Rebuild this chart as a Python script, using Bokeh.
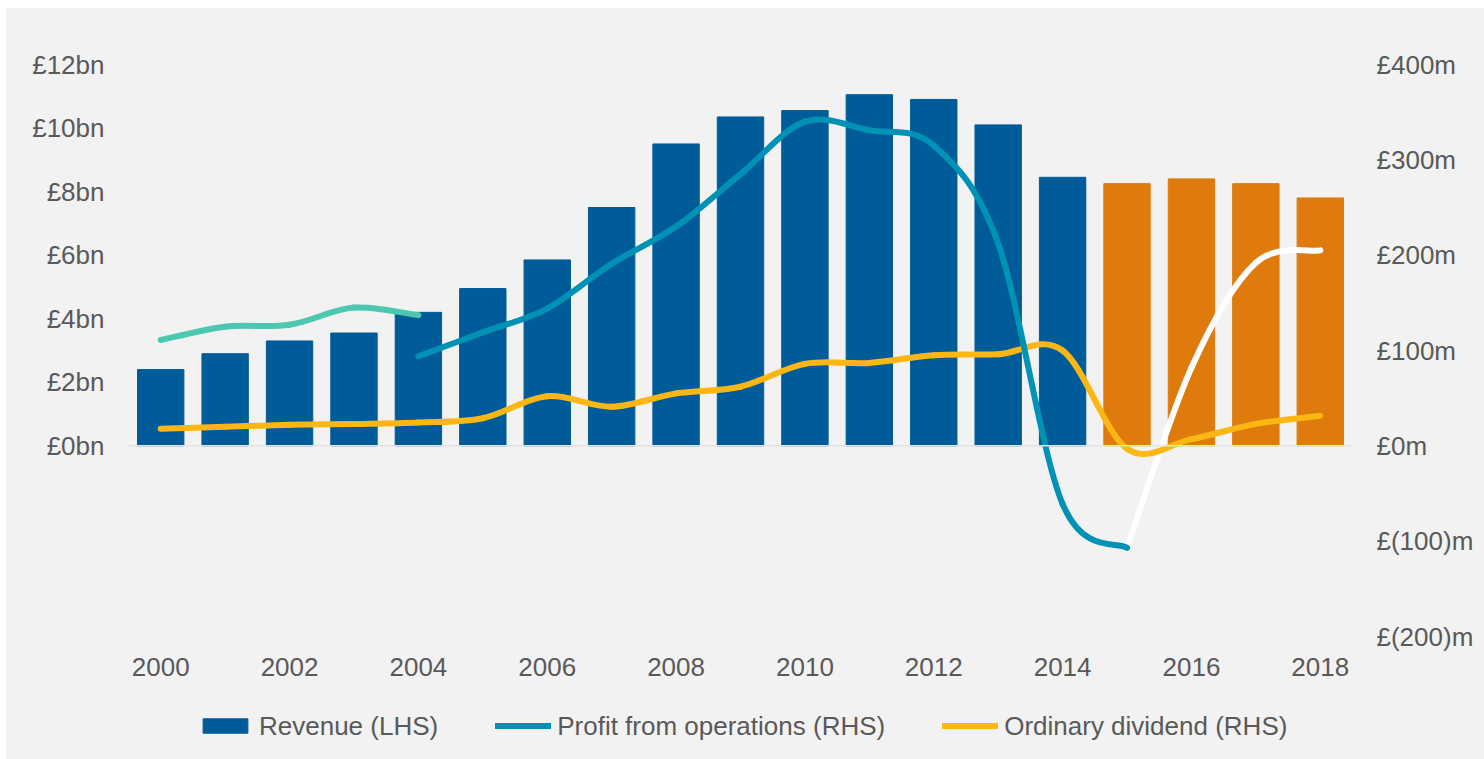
from bokeh.plotting import figure
from bokeh.layouts import column
from bokeh.models import (Range1d, LinearAxis, FixedTicker, Span, Legend,
                          LegendItem, ColumnDataSource)
from bokeh.embed import file_html
from bokeh.resources import INLINE

# ---------------- data ----------------
years = list(range(2000, 2019))
revenue_bn = [2.4, 2.9, 3.3, 3.55, 4.2, 4.95, 5.85, 7.5, 9.5, 10.35,
              10.55, 11.05, 10.9, 10.1, 8.45, 8.25, 8.4, 8.25, 7.8]
forecast_from = 2015

profit_old_years = [2000, 2001, 2002, 2003, 2004]
profit_old_m = [111, 125, 127, 145, 137]

profit_years = list(range(2004, 2016))
profit_m = [94, 119, 144, 191, 230, 285, 340, 331, 315, 212, -61, -107]

profit_fc_years = [2015, 2016, 2017, 2018]
profit_fc_m = [-107, 82, 192, 205]

dividend_m = [18, 20, 22, 23, 24.5, 29, 52, 41, 55, 62, 86, 87, 95, 96,
              100, -3, 7, 23, 31.5]

lhs_ticks = [0, 2, 4, 6, 8, 10, 12]
lhs_labels = ["£0bn", "£2bn", "£4bn", "£6bn", "£8bn", "£10bn", "£12bn"]
rhs_ticks = [-200, -100, 0, 100, 200, 300, 400]
rhs_labels = ["£(200)m", "£(100)m", "£0m", "£100m", "£200m", "£300m", "£400m"]
x_ticks = list(range(2000, 2019, 2))

# ---------------- style ----------------
BG = "#f2f2f2"
TXT = "#595959"
BLUE = "#005c99"
ORANGE = "#df7a0c"
TEAL = "#0092b5"
MINT = "#4cc7b0"
YELLOW = "#fdb714"
FONT = "Liberation Sans"
FS = "26px"


def smooth(xs, ys):
    """Catmull-Rom style cubic Bezier segments through the data points."""
    n = len(xs)
    pts = list(zip(xs, ys))
    d = {k: [] for k in ("x0", "y0", "x1", "y1", "cx0", "cy0", "cx1", "cy1")}
    for i in range(n - 1):
        p0 = pts[i - 1] if i > 0 else pts[i]
        p1 = pts[i]
        p2 = pts[i + 1]
        p3 = pts[i + 2] if i + 2 < n else pts[i + 1]
        d["x0"].append(p1[0]); d["y0"].append(p1[1])
        d["x1"].append(p2[0]); d["y1"].append(p2[1])
        d["cx0"].append(p1[0] + (p2[0] - p0[0]) / 6.0)
        d["cy0"].append(p1[1] + (p2[1] - p0[1]) / 6.0)
        d["cx1"].append(p2[0] - (p3[0] - p1[0]) / 6.0)
        d["cy1"].append(p2[1] - (p3[1] - p1[1]) / 6.0)
    return ColumnDataSource(d)


bar_colors = [ORANGE if y >= forecast_from else BLUE for y in years]
src_bars = ColumnDataSource(dict(x=years, top=revenue_bn, color=bar_colors))
src_fc = smooth(profit_fc_years, profit_fc_m)
src_div = smooth(years, dividend_m)
src_pro = smooth(profit_years, profit_m)
src_old = smooth(profit_old_years, profit_old_m)

# ---------------- main chart ----------------
p = figure(width=1478, height=684, output_backend="svg",
           toolbar_location=None, margin=(8, 0, 0, 6),
           x_range=Range1d(1999.5, 2018.5), y_range=Range1d(-6, 12),
           min_border_left=122, min_border_right=132, min_border_top=56,
           min_border_bottom=56, styles={"background-color": BG})
p.extra_y_ranges = {"rhs": Range1d(-200, 400)}
p.background_fill_color = BG
p.border_fill_color = BG
p.outline_line_color = None
p.grid.visible = False

p.add_layout(Span(location=0, dimension="width", line_color="#e2e2e2",
                  line_width=1.5))

p.vbar(x="x", top="top", bottom=0, width=0.72, source=src_bars,
       fill_color="color", line_color="color")

LW = 6
BZ = dict(x0="x0", y0="y0", x1="x1", y1="y1", cx0="cx0", cy0="cy0",
          cx1="cx1", cy1="cy1", line_width=LW, line_cap="round")
p.bezier(source=src_fc, line_color="white", y_range_name="rhs", **BZ)
p.bezier(source=src_div, line_color=YELLOW, y_range_name="rhs", **BZ)
p.bezier(source=src_pro, line_color=TEAL, y_range_name="rhs", **BZ)
p.bezier(source=src_old, line_color=MINT, y_range_name="rhs", **BZ)


def style_axis(ax):
    ax.axis_line_color = None
    ax.major_tick_line_color = None
    ax.minor_tick_line_color = None
    ax.major_tick_out = 0
    ax.major_tick_in = 0
    ax.minor_tick_out = 0
    ax.major_label_text_font = FONT
    ax.major_label_text_font_size = FS
    ax.major_label_text_color = TXT

ly = p.yaxis[0]
style_axis(ly)
ly.ticker = FixedTicker(ticks=lhs_ticks)
ly.major_label_overrides = dict(zip(lhs_ticks, lhs_labels))
ly.major_label_standoff = 24

ry = LinearAxis(y_range_name="rhs")
style_axis(ry)
ry.ticker = FixedTicker(ticks=rhs_ticks)
ry.major_label_overrides = dict(zip(rhs_ticks, rhs_labels))
ry.major_label_standoff = 24
p.add_layout(ry, "right")

bx = p.xaxis[0]
style_axis(bx)
bx.ticker = FixedTicker(ticks=x_ticks)
bx.major_label_standoff = 21

# ---------------- legend strip ----------------
q = figure(width=1478, height=67, output_backend="svg", toolbar_location=None,
           margin=(0, 0, 0, 6), x_axis_type=None, y_axis_type=None,
           min_border=0, styles={"background-color": BG})
q.background_fill_color = BG
q.border_fill_color = BG
q.outline_line_color = None
q.grid.visible = False
k_rev = q.vbar(x="x", top="top", bottom=0, width=0.72, source=src_bars,
               fill_color="color", line_color="color", visible=False)
k_pro = q.bezier(source=src_pro, line_color=TEAL, visible=False, **BZ)
k_div = q.bezier(source=src_div, line_color=YELLOW, visible=False, **BZ)

legend = Legend(items=[LegendItem(label="Revenue (LHS)", renderers=[k_rev]),
                       LegendItem(label="Profit from operations (RHS)", renderers=[k_pro]),
                       LegendItem(label="Ordinary dividend (RHS)", renderers=[k_div])],
                orientation="horizontal", location="center_left",
                glyph_width=56, glyph_height=18, label_standoff=6, spacing=57,
                padding=6, margin=69, border_line_color=None,
                background_fill_alpha=0, label_text_font=FONT,
                label_text_font_size=FS, label_text_color=TXT)
q.add_layout(legend, "center")

layout = column(p, q, spacing=0)
open("out.html", "w").write(file_html(layout, INLINE))
